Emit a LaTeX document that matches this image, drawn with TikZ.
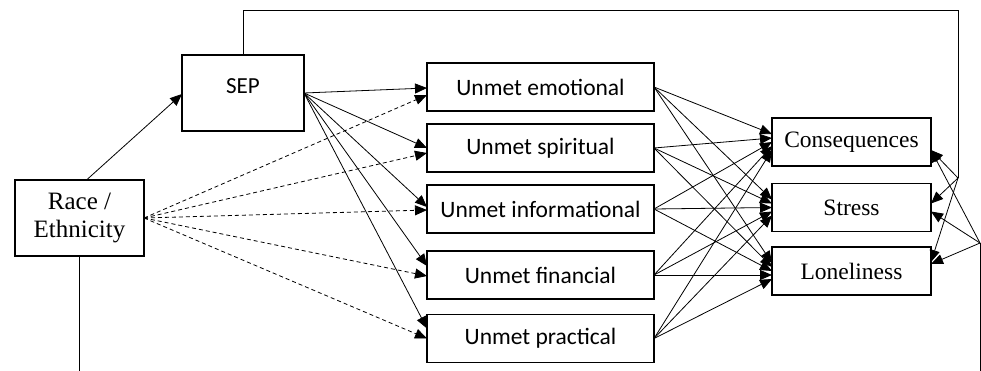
\documentclass[tikz,border=0pt]{standalone}
\usepackage{fontspec}
\setmainfont{Liberation Serif}
\newfontfamily\calib{Carlito}
\usetikzlibrary{arrows.meta,calc}
\begin{document}
\begin{tikzpicture}[x=1pt,y=-1pt,
  box/.style={draw, line width=1.3pt, inner sep=0pt, outer sep=0pt},
  unmet/.style={box, minimum width=227pt, minimum height=48pt, font=\calib\fontsize{23.5}{27}\selectfont},
  outc/.style={box, minimum width=159pt, minimum height=48pt, font=\fontsize{23.5}{27}\selectfont},
  conn/.style={line width=0.8pt, -{Triangle[length=12pt,width=10pt]}},
  dconn/.style={conn, dash pattern=on 4pt off 3pt},
  plain/.style={line width=0.8pt}]
\useasboundingbox (0,0) rectangle (981,371);
% nodes
\node[box, minimum width=129pt, minimum height=76pt, align=center,
      font=\fontsize{25}{28}\selectfont] (race) at (79.5,218) {Race /\\Ethnicity};
\node[box, minimum width=122pt, minimum height=76pt] (sep) at (243,93) {};
\node[font=\calib\fontsize{23}{27}\selectfont] (septxt) at (243,86) {SEP};
\node[unmet] (emo) at (540.5,87) {Unmet emotional};
\node[unmet] (spi) at (540.5,148) {Unmet spiritual};
\node[unmet] (inf) at (540.5,209) {Unmet informational};
\node[unmet] (fin) at (540.5,275) {Unmet financial};
\node[unmet] (pra) at (540.5,338.5) {Unmet practical};
\node[outc] (con) at (851.5,142) {Consequences};
\node[outc] (str) at (851.5,207.5) {Stress};
\node[outc] (lon) at (851.5,271) {Loneliness};
% coordinates
\coordinate (tr) at (958,10);
\coordinate (sp) at (958,178);
\coordinate (rp) at (980,243);
\coordinate (rb) at (79.5,371);
\coordinate (rpb) at (980,371);
% race -> sep
\draw[conn] ($(race.north)+(7,0)$) -- ($(sep.west)+(0,1)$);
% sep -> unmet
\draw[conn] (sep.east) -- ($(emo.west)+(0,1)$);
\draw[conn] (sep.east) -- (spi.west);
\draw[conn] (sep.east) -- ($(inf.west)+(0,-2)$);
\draw[conn] (sep.east) -- ($(fin.west)+(0,-9)$);
\draw[conn] (sep.east) -- ($(pra.west)+(0,-10)$);
% race -> unmet (dashed)
\draw[dconn] (race.east) -- ($(emo.west)+(0,8)$);
\draw[dconn] (race.east) -- ($(spi.west)+(0,5)$);
\draw[dconn] (race.east) -- ($(inf.west)+(0,1)$);
\draw[dconn] (race.east) -- ($(fin.west)+(0,1)$);
\draw[dconn] (race.east) -- (pra.west);
% unmet -> outcomes
\foreach \u [count=\i] in {emo,spi,inf,fin,pra}
  \foreach \o in {con,str,lon}
    \draw[conn] (\u.east) -- ($(\o.west)+(0,{(\i-3)*4})$);
% SEP long path
\draw[plain] (sep.north) |- (tr) -- (sp);
\draw[conn] (sp) -- ($(con.east)+(0,8)$);
\draw[conn] (sp) -- ($(str.east)+(0,-4)$);
\draw[conn] (sp) -- ($(lon.east)+(0,-9)$);
% race long path
\draw[plain] (race.south) -- (rb);
\draw[plain] (rpb) -- (rp);
\draw[conn] (rp) -- ($(con.east)+(0,8)$);
\draw[conn] (rp) -- ($(str.east)+(0,4)$);
\draw[conn] (rp) -- ($(lon.east)+(0,-7)$);
\end{tikzpicture}
\end{document}
